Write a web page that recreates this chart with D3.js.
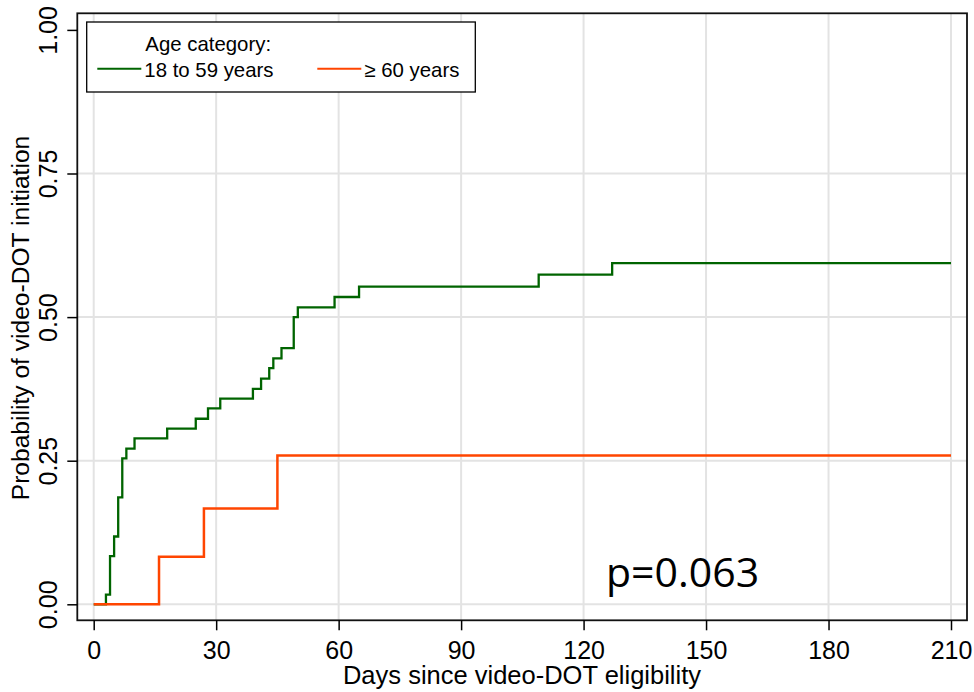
<!DOCTYPE html>
<html>
  <head>
    <title>Video-DOT initiation by age</title>
    <meta charset="utf-8" />
    <style>
      body { margin: 0; background: #fff; }
      svg text { font-family: "Liberation Sans", Arial, sans-serif; fill: #000; }
    </style>
  </head>

  <body>
    <div id="plot"></div>

    <script src="https://d3js.org/d3.v7.min.js"></script>
    <script>
      // step data (day of event, cumulative probability)
      const youngDays = [0, 3, 4, 5, 6, 7, 8, 10, 18, 25, 28, 31, 39, 41, 43, 44, 46, 49, 50, 59, 65, 109, 127, 210];
      const youngProb = [0, 0.017, 0.084, 0.118, 0.186, 0.254, 0.271, 0.289, 0.306, 0.323, 0.341, 0.358, 0.375, 0.393, 0.411, 0.428, 0.446, 0.5, 0.517, 0.535, 0.553, 0.574, 0.594, 0.594];
      const oldDays = [0, 16, 27, 45, 210];
      const oldProb = [0, 0.083, 0.167, 0.259, 0.259];

      const xTicks = [0, 30, 60, 90, 120, 150, 180, 210];
      const yTicks = [0, 0.25, 0.5, 0.75, 1];
      const groupLabels = ["18 to 59 years", "\u2265 60 years"];
      const groupColors = ["#006400", "#ff4500"];
      const legendTitle = "Age category:";
      const pText = "p=0.063";

      const width = 974,
        height = 692;

      // frame of the plot region
      const frame = { left: 77.3, right: 967, top: 13.3, bottom: 620.3 };

      const svg = d3
        .select("#plot")
        .append("svg")
        .attr("width", width)
        .attr("height", height);

      const x = d3.scaleLinear().domain([0, 210]).range([93.7, 951]);
      const y = d3.scaleLinear().domain([0, 1]).range([604.3, 29.9]);

      // grid lines
      const grid = svg.append("g").attr("stroke", "#e3e3e3").attr("stroke-width", 2);
      grid.selectAll("line.v")
        .data(xTicks)
        .join("line")
        .attr("class", "v")
        .attr("x1", (d) => x(d))
        .attr("x2", (d) => x(d))
        .attr("y1", frame.top)
        .attr("y2", frame.bottom);
      grid.selectAll("line.h")
        .data(yTicks.filter((d) => d < 1))
        .join("line")
        .attr("class", "h")
        .attr("x1", frame.left)
        .attr("x2", frame.right)
        .attr("y1", (d) => y(d))
        .attr("y2", (d) => y(d));

      // survival-type step curves
      const line = d3
        .line()
        .x((d) => x(d[0]))
        .y((d) => y(d[1]))
        .curve(d3.curveStepAfter);

      const series = [
        d3.zip(youngDays, youngProb),
        d3.zip(oldDays, oldProb),
      ];
      svg.append("g")
        .selectAll("path")
        .data(series)
        .join("path")
        .attr("d", line)
        .attr("fill", "none")
        .attr("stroke", (d, i) => groupColors[i])
        .attr("stroke-width", (d, i) => (i === 0 ? 2.3 : 2.5));

      // frame
      svg.append("rect")
        .attr("x", frame.left)
        .attr("y", frame.top)
        .attr("width", frame.right - frame.left)
        .attr("height", frame.bottom - frame.top)
        .attr("fill", "none")
        .attr("stroke", "#111")
        .attr("stroke-width", 1.8);

      // x axis
      const xAxis = svg.append("g")
        .attr("transform", `translate(0, ${frame.bottom})`)
        .call(d3.axisBottom(x).tickValues(xTicks).tickSize(10).tickSizeOuter(0));
      xAxis.select(".domain").remove();
      xAxis.selectAll(".tick line").attr("stroke", "#000").attr("stroke-width", 1.5);
      xAxis.selectAll(".tick text")
        .attr("y", 38.7)
        .attr("dy", null)
        .style("font-size", "25px");

      // y axis, labels turned sideways
      const yAxis = svg.append("g")
        .attr("transform", `translate(${frame.left}, 0)`)
        .call(d3.axisLeft(y).tickValues(yTicks).tickSize(10).tickSizeOuter(0).tickFormat(d3.format(".2f")));
      yAxis.select(".domain").remove();
      yAxis.selectAll(".tick line").attr("stroke", "#000").attr("stroke-width", 1.5);
      yAxis.selectAll(".tick text")
        .attr("transform", "rotate(-90)")
        .attr("x", 0)
        .attr("y", -20.5)
        .attr("dy", null)
        .attr("text-anchor", "middle")
        .style("font-size", "25px");

      // axis titles
      svg.append("text")
        .attr("x", 522)
        .attr("y", 684)
        .attr("text-anchor", "middle")
        .style("font-size", "25.5px")
        .text("Days since video-DOT eligibility");
      svg.append("text")
        .attr("transform", "translate(28.5, 318) rotate(-90)")
        .attr("text-anchor", "middle")
        .style("font-size", "24.6px")
        .text("Probability of video-DOT initiation");

      // legend
      const legend = svg.append("g");
      legend.append("rect")
        .attr("x", 86.7)
        .attr("y", 22)
        .attr("width", 388.6)
        .attr("height", 70)
        .attr("fill", "#fff")
        .attr("stroke", "#000")
        .attr("stroke-width", 1.3);
      legend.append("text")
        .attr("x", 145.3)
        .attr("y", 50.7)
        .style("font-size", "20.4px")
        .text(legendTitle);
      const legendX = [97.3, 317.3];
      const items = legend.selectAll("g.item")
        .data(groupLabels)
        .join("g")
        .attr("class", "item")
        .attr("transform", (d, i) => `translate(${legendX[i]}, 0)`);
      items.append("line")
        .attr("x1", 0)
        .attr("x2", 44)
        .attr("y1", 68.7)
        .attr("y2", 68.7)
        .attr("stroke", (d, i) => groupColors[i])
        .attr("stroke-width", 2);
      items.append("text")
        .attr("x", 47)
        .attr("y", 76.7)
        .style("font-size", "20.4px")
        .text((d) => d);

      // log-rank p value
      svg.append("text")
        .attr("x", 606)
        .attr("y", 587)
        .style("font-family", "'Open Sans', sans-serif")
        .style("font-size", "41px")
        .text(pText);
    </script>
  </body>
</html>
